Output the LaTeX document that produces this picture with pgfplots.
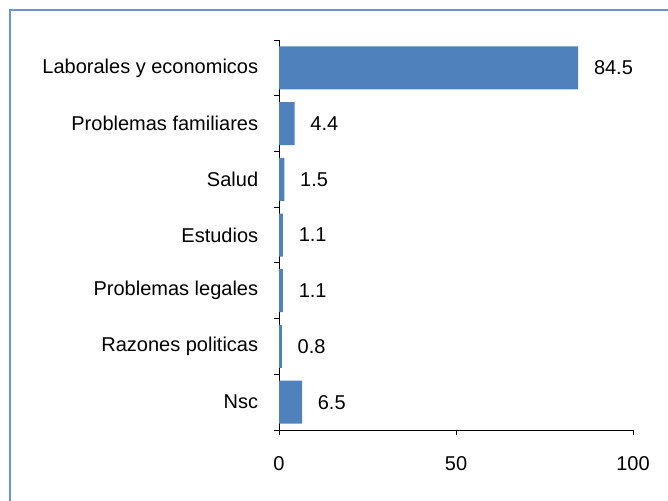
\documentclass[border=0pt]{standalone}
\usepackage{pgfplots}
\pgfplotsset{compat=1.18}
\usepackage{fontspec}
\setmainfont{Liberation Sans}
\definecolor{barblue}{HTML}{4F81BD}
\definecolor{framblue}{HTML}{6A94CC}
\begin{document}
\fontsize{20}{24}\selectfont
\begin{tikzpicture}
\useasboundingbox (0pt,0pt) rectangle (668pt,500pt);
\draw[framblue, line width=2pt] (10pt,-5pt) -- (10pt,490pt) -- (675pt,490pt);
\begin{axis}[
  at={(279pt,70pt)}, anchor=south west,
  scale only axis, width=354pt, height=390pt,
  xbar, bar width=43pt,
  xmin=0, xmax=100,
  ymin=-0.5, ymax=6.5,
  axis lines*=left,
  axis line style={black, line width=0.8pt},
  tick align=outside,
  major tick length=0pt,
  minor tick length=5pt,
  tick style={black, line width=0.8pt},
  xtick={0,50,100},
  minor xtick={0,50,100},
  ytick={0,...,6},
  minor ytick={-0.5,0.5,1.5,2.5,3.5,4.5,5.5,6.5},
  yticklabels={Nsc,Razones politicas,Problemas legales,Estudios,Salud,Problemas familiares,Laborales y economicos},
  yticklabel style={xshift=-14pt},
  xticklabel style={yshift=-20pt},
  /pgf/number format/assume math mode=true,
  ticklabel style={font=\fontsize{20}{24}\selectfont},
  point meta=explicit symbolic,
  nodes near coords,
  nodes near coords style={anchor=west, xshift=9pt, font=\fontsize{20}{24}\selectfont, text=black},
]
\addplot[fill=barblue, draw=none] coordinates {
  (6.5,0) [6.5]
  (0.8,1) [0.8]
  (1.1,2) [1.1]
  (1.1,3) [1.1]
  (1.5,4) [1.5]
  (4.4,5) [4.4]
  (84.5,6) [84.5]
};
\end{axis}
\end{tikzpicture}
\end{document}
